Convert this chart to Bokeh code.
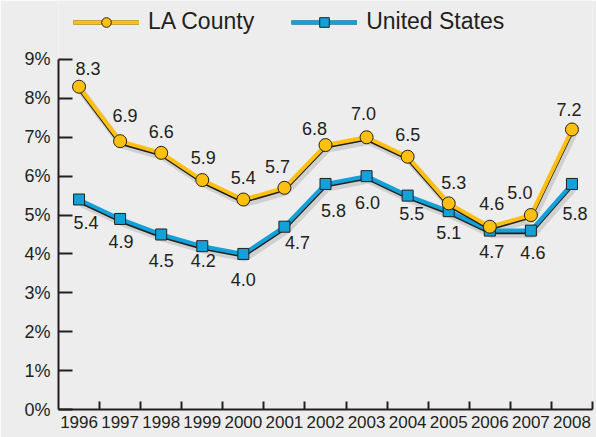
from bokeh.plotting import figure
from bokeh.models import (ColumnDataSource, Range1d, FixedTicker, Legend, LegendItem)
from bokeh.core.properties import value
from bokeh.embed import file_html
from bokeh.resources import INLINE

# ---- data ----
years = ["1996", "1997", "1998", "1999", "2000", "2001", "2002",
         "2003", "2004", "2005", "2006", "2007", "2008"]
la_county = [8.3, 6.9, 6.6, 5.9, 5.4, 5.7, 6.8, 7.0, 6.5, 5.3, 4.7, 5.0, 7.2]
united_states = [5.4, 4.9, 4.5, 4.2, 4.0, 4.7, 5.8, 6.0, 5.5, 5.1, 4.6, 4.6, 5.8]
la_labels = ["8.3", "6.9", "6.6", "5.9", "5.4", "5.7", "6.8",
             "7.0", "6.5", "5.3", "4.6", "5.0", "7.2"]
us_labels = ["5.4", "4.9", "4.5", "4.2", "4.0", "4.7", "5.8",
             "6.0", "5.5", "5.1", "4.7", "4.6", "5.8"]
y_ticks = [0, 1, 2, 3, 4, 5, 6, 7, 8, 9]

# ---- label placement (style, screen pixels) ----
la_dx = [9, 5, 0, 1, 0, -7, -11, -3, 0, 5, 2, -11, -3]
la_dy = [-18, -26, -21, -23, -22, -21, -17, -24, -22, -21, -23, -23, -20]
us_dx = [7, 1, 0, 1, 0, 13, 8, 1, 4, 0, 2, 2, 3]
us_dy = [23, 23, 26, 14, 26, 16, 27, 26, 18, 21, 21, 22, 30]

YELLOW = "#FFC00F"
BLUE = "#12A1D9"
INK = "#231F20"
BG = "#EDEDED"
FONT = "Liberation Sans"

n = len(years)
xs = [i + 0.5 for i in range(n)]
ymax = y_ticks[-1]
PX_PER_UNIT = 38.89          # vertical scale of the frame
FRAME_H = 409
ytop = FRAME_H / PX_PER_UNIT  # frame reaches the top of the canvas (room for legend)

src = ColumnDataSource(dict(x=xs, la=la_county, us=united_states,
                            la_lab=la_labels, us_lab=us_labels,
                            la_dx=la_dx, la_dy=la_dy, us_dx=us_dx, us_dy=us_dy))

p = figure(width=596, height=437, output_backend="svg", toolbar_location=None,
           x_range=Range1d(0, n), y_range=Range1d(0, ytop),
           min_border_left=58, min_border_right=4, min_border_top=0,
           min_border_bottom=28)
p.background_fill_color = BG
p.border_fill_color = BG
p.outline_line_color = None
p.grid.visible = False

# shifted ranges for edge and shadow effects
edge = 1.6 / PX_PER_UNIT
sh_y = 4.0 / PX_PER_UNIT
sh_x = 2.0 / (534 / n)
p.extra_y_ranges = {"edge": Range1d(edge, ytop + edge),
                    "shadow": Range1d(sh_y, ytop + sh_y)}
p.extra_x_ranges = {"shadow": Range1d(-sh_x, n - sh_x)}

# shadows
for col in ("la", "us"):
    p.line("x", col, source=src, line_color="#9a9a9a", line_alpha=0.35,
           line_width=7, y_range_name="shadow", x_range_name="shadow")

# US series
us_edge = p.line("x", "us", source=src, line_color=INK, line_width=4,
                 y_range_name="edge")
us_line = p.line("x", "us", source=src, line_color=BLUE, line_width=4)
us_mark = p.scatter("x", "us", source=src, marker="square", size=11,
                    fill_color=BLUE, line_color=INK, line_width=1)

# LA series
la_edge = p.line("x", "la", source=src, line_color=INK, line_width=4,
                 y_range_name="edge")
la_line = p.line("x", "la", source=src, line_color=YELLOW, line_width=4)
la_mark = p.scatter("x", "la", source=src, marker="circle", size=13,
                    fill_color=YELLOW, line_color=INK, line_width=1)

# data labels
for col, lab, dx, dy in (("la", "la_lab", "la_dx", "la_dy"),
                         ("us", "us_lab", "us_dx", "us_dy")):
    p.text("x", col, text=lab, source=src, x_offset=dx, y_offset=dy,
           text_align="center", text_baseline="middle", text_font=value(FONT),
           text_font_size="18px", text_color=INK)

# axes
xa = p.xaxis[0]
xa.ticker = FixedTicker(ticks=xs, minor_ticks=list(range(1, n + 1)))
xa.major_label_overrides = {x: y for x, y in zip(xs, years)}
xa.major_tick_in = 0
xa.major_tick_out = 0
xa.minor_tick_in = 8
xa.minor_tick_out = 0
xa.minor_tick_line_width = 2
xa.minor_tick_line_color = INK
xa.axis_line_width = 2
xa.axis_line_color = INK
xa.major_label_standoff = 6
xa.major_label_text_font = FONT
xa.major_label_text_font_size = "17px"
xa.major_label_text_color = INK

ya = p.yaxis[0]
ya.ticker = FixedTicker(ticks=y_ticks, minor_ticks=[])
ya.bounds = (0, ymax)
ya.major_label_overrides = {t: f"{t}%" for t in y_ticks}
ya.major_tick_in = 14
ya.major_tick_out = 0
ya.major_tick_line_width = 2
ya.major_tick_line_color = INK
ya.axis_line_width = 2
ya.axis_line_color = INK
ya.major_label_standoff = 8
ya.major_label_text_font = FONT
ya.major_label_text_font_size = "18px"
ya.major_label_text_color = INK

legend = Legend(items=[LegendItem(label="LA County", renderers=[la_edge, la_line, la_mark]),
                       LegendItem(label="United States", renderers=[us_edge, us_line, us_mark])],
                orientation="horizontal", location=(15, 374),
                glyph_width=66, glyph_height=24, label_standoff=9, spacing=37,
                padding=0, margin=0, border_line_color=None,
                background_fill_alpha=0,
                label_text_font=FONT, label_text_font_size="23px",
                label_text_color=INK)
p.add_layout(legend)

open("out.html", "w").write(file_html(p, INLINE))
